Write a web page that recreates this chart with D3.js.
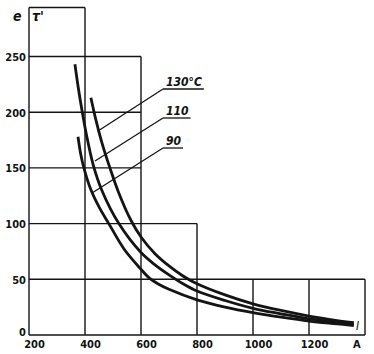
<!DOCTYPE html>
<html><head><meta charset="utf-8">
<script src="https://cdn.jsdelivr.net/npm/d3@7"></script>
<style>
html,body{margin:0;padding:0;background:#fff;}
svg{display:block;}
text{font-family:"Liberation Sans Narrow","DejaVu Sans Condensed","Liberation Sans",sans-serif;fill:#111;}
</style></head>
<body>
<script>
// ---- data ----
const xTicks = [200, 400, 600, 800, 1000, 1200];
const yTicks = [0, 50, 100, 150, 200, 250];
const xLabels = ["200", "400", "600", "800", "1000", "1200"];
const yLabels = ["0", "50", "100", "150", "200", "250"];
const seriesNames = ["130°C", "110", "90"];
// current I (A) vs time τ
const I130 = [421, 440, 460, 489, 520, 564, 600, 650, 700, 750, 800, 900, 1000, 1100, 1200, 1300, 1360];
const T130 = [213, 192, 173, 150, 128, 103, 88, 73, 62, 53, 46, 36, 28, 22, 17, 13, 11];
const I110 = [364, 376, 389, 405, 429, 460, 521, 600, 650, 700, 750, 800, 900, 1000, 1100, 1200, 1300, 1360];
const T110 = [243, 222, 202, 180, 153, 130, 100, 74, 63, 54, 46, 39.5, 31, 24, 19, 14.5, 11.5, 10];
const I90 = [375, 385, 396, 420, 450, 485, 540, 600, 630, 660, 700, 800, 900, 1000, 1100, 1200, 1300, 1360];
const T90 = [178, 162, 150, 131, 115, 100, 77, 59, 51, 46, 41, 31.5, 25, 20, 16, 12.5, 10, 8.5];
// staircase grid: horizontal lines (value, extends to I) and vertical lines (I, up to value)
const gridHVal = [0, 50, 100, 150, 200, 250, 294];
const gridHTo = [1400, 1400, 800, 600, 600, 600, 400];
const gridVVal = [200, 400, 600, 800, 1000, 1200, 1400];
const gridVTop = [294, 294, 250, 100, 50, 50, 50];

const W = 374, H = 354;
const svg = d3.select("body").append("svg").attr("width", W).attr("height", H);
const x = d3.scaleLinear().domain([200, 1400]).range([29, 365]);
const y = d3.scaleLinear().domain([0, 250]).range([335, 56.5]);
const ink = "#141414";

// grid
const g = svg.append("g").attr("stroke", ink).attr("stroke-width", 1.4).attr("fill", "none");
gridHVal.forEach((v, i) => {
  g.append("line").attr("x1", x(200)).attr("x2", x(gridHTo[i])).attr("y1", y(v)).attr("y2", y(v));
});
gridVVal.forEach((v, i) => {
  g.append("line").attr("x1", x(v)).attr("x2", x(v)).attr("y1", y(0)).attr("y2", y(gridVTop[i]));
});

// axes (labels only)
const ya = svg.append("g").attr("transform", `translate(${x(200)},0)`)
  .call(d3.axisLeft(y).tickValues(yTicks).tickFormat((d, i) => yLabels[i]).tickSize(0).tickPadding(3));
ya.select(".domain").remove();
ya.selectAll("text").style("font-size", "11px").style("font-weight", "bold")
  .attr("dy", d => d === 0 ? "0.05em" : "0.35em")
  .style("font-family", '"Liberation Sans Narrow","DejaVu Sans Condensed",sans-serif');
const xa = svg.append("g").attr("transform", `translate(0,${y(0)})`)
  .call(d3.axisBottom(x).tickValues(xTicks).tickFormat((d, i) => xLabels[i]).tickSize(0).tickPadding(4));
xa.select(".domain").remove();
xa.selectAll("text").style("font-size", "11px").style("font-weight", "bold").attr("dx", "5").attr("dy", "0.85em")
  .style("font-family", '"Liberation Sans Narrow","DejaVu Sans Condensed",sans-serif');

// curves
const line = d3.line().x(d => x(d[0])).y(d => y(d[1])).curve(d3.curveCatmullRom.alpha(0.5));
const series = [d3.zip(I130, T130), d3.zip(I110, T110), d3.zip(I90, T90)];
svg.append("g").selectAll("path").data(series).join("path")
  .attr("d", line).attr("fill", "none").attr("stroke", ink).attr("stroke-width", 2.8)
  .attr("stroke-linecap", "butt");

// labels with leader lines
const labelPos = [[163, 89, 98, 131], [163, 118, 95, 161], [163, 148, 92, 193]];
const lab = svg.append("g");
seriesNames.forEach((n, i) => {
  const p = labelPos[i];
  const t = lab.append("text").attr("x", p[0] + 3).attr("y", p[1] - 3).text(n)
    .style("font-size", "12px").style("font-weight", "bold").style("font-style", "italic");
  const w = t.node().getComputedTextLength();
  lab.append("line").attr("x1", p[0]).attr("x2", p[0] + w + 5).attr("y1", p[1]).attr("y2", p[1])
    .attr("stroke", ink).attr("stroke-width", 1.3);
  lab.append("line").attr("x1", p[0]).attr("y1", p[1]).attr("x2", p[2]).attr("y2", p[3])
    .attr("stroke", ink).attr("stroke-width", 1.3);
});

// axis titles
svg.append("text").attr("x", 13).attr("y", 21).text("e").style("font-size", "14px").style("font-weight", "bold").style("font-style", "italic");
svg.append("text").attr("x", 32).attr("y", 21).text("τ'").style("font-size", "14px").style("font-weight", "bold").style("font-style", "italic");
svg.append("text").attr("x", 356).attr("y", 330).text("I").style("font-size", "12px").style("font-style", "italic");
svg.append("text").attr("x", 353).attr("y", 348).text("A").style("font-size", "11px").style("font-weight", "bold");
</script>
</body></html>
